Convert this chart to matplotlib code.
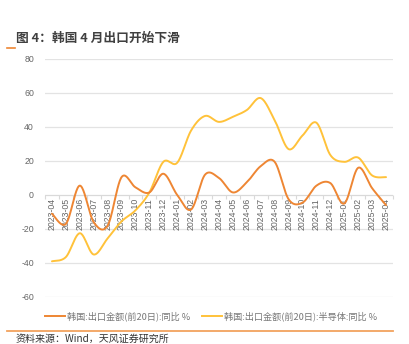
import numpy as np
import matplotlib
matplotlib.use("Agg")
import matplotlib.pyplot as plt
from matplotlib.lines import Line2D

plt.rcParams['font.family'] = ['Noto Sans CJK SC', 'DejaVu Sans']

months = ["2023-04", "2023-05", "2023-06", "2023-07", "2023-08", "2023-09", "2023-10",
          "2023-11", "2023-12", "2024-01", "2024-02", "2024-03", "2024-04", "2024-05",
          "2024-06", "2024-07", "2024-08", "2024-09", "2024-10", "2024-11", "2024-12",
          "2025-01", "2025-02", "2025-03", "2025-04"]
export_yoy = [-11, -17, 5.5, -16, -18, 10.5, 4.5, 1.5, 12.5, 0, -8.5, 12, 10, 1.5,
              7.5, 17, 19.5, -2.5, -4.5, 5.5, 7, -5, 16, 4, -6]
semi_yoy = [-39, -36.5, -22.5, -35, -25.5, -15.5, -9, 1.5, 19.5, 19, 38, 46.5, 43, 46,
            50, 57, 44, 27, 35, 42.5, 23.5, 19.5, 22, 11.5, 10.5]
series_names = ["韩国:出口金额(前20日):同比 %", "韩国:出口金额(前20日):半导体:同比 %"]
yticks = [-60, -40, -20, 0, 20, 40, 60, 80]

c_orange = '#EE8633'
c_yellow = '#FFC23A'


def smooth(xs, ys, n=24, t=0.5):
    xs = np.asarray(xs, float)
    ys = np.asarray(ys, float)
    P = np.column_stack([xs, ys])
    out = []
    for i in range(len(P) - 1):
        p0 = P[i - 1] if i > 0 else P[i]
        p1 = P[i]
        p2 = P[i + 1]
        p3 = P[i + 2] if i + 2 < len(P) else P[i + 1]
        c1 = p1 + (p2 - p0) * t / 3
        c2 = p2 - (p3 - p1) * t / 3
        s = np.linspace(0, 1, n, endpoint=(i == len(P) - 2))[:, None]
        seg = ((1 - s) ** 3) * p1 + 3 * ((1 - s) ** 2) * s * c1 + 3 * (1 - s) * s ** 2 * c2 + s ** 3 * p2
        out.append(seg)
    out = np.vstack(out)
    return out[:, 0], out[:, 1]


fig = plt.figure(figsize=(4.09, 3.44), dpi=100)
ax = fig.add_axes([45 / 409, (344 - 297) / 344, 348 / 409, 238 / 344])

x = np.arange(len(months))
sx, sy = smooth(x, semi_yoy)
ax.plot(sx, sy, color=c_yellow, lw=1.4, zorder=3, solid_capstyle='round')
ox, oy = smooth(x, export_yoy)
ax.plot(ox, oy, color=c_orange, lw=1.4, zorder=4, solid_capstyle='round')

ax.set_xlim(-0.5, len(months) - 0.5)
ax.set_ylim(-60, 80)
ax.set_yticks(yticks)
ax.set_yticklabels([str(v) for v in yticks], family='Liberation Sans', fontsize=6.3, color='#666666')
for v in yticks:
    if v != 0:
        ax.axhline(v, color='#E3E3E3', lw=0.9, zorder=1)
ax.axhline(0, color='#D9D9D9', lw=0.9, zorder=1)

for s in ['top', 'right', 'left']:
    ax.spines[s].set_visible(False)
ax.spines['bottom'].set_position(('data', 0))
ax.spines['bottom'].set_visible(False)
ax.tick_params(axis='y', length=0, pad=8)
ax.set_xticks(x)
ax.set_xticklabels(months, rotation=90, family='Liberation Sans', fontsize=6.3, color='#666666', va='top')
ax.tick_params(axis='x', which='major', length=0, pad=2)
ax.set_xticks(np.arange(-0.5, len(months), 1), minor=True)
ax.tick_params(axis='x', which='minor', length=3, color='#D9D9D9', width=0.8)

# legend
fig.add_artist(Line2D([45 / 409, 65 / 409], [1 - 316 / 344] * 2, color=c_orange, lw=1.4))
fig.text(67 / 409, 1 - 316 / 344, series_names[0], fontsize=6.6, color='#777777', va='center')
fig.add_artist(Line2D([202 / 409, 222 / 409], [1 - 316 / 344] * 2, color=c_yellow, lw=1.4))
fig.text(224 / 409, 1 - 316 / 344, series_names[1], fontsize=6.6, color='#777777', va='center')

# title
fig.text(16 / 409, 1 - 38 / 344, "图 4：韩国 4 月出口开始下滑", fontsize=9.2, fontweight='bold',
         color='#404040', va='center')
fig.add_artist(Line2D([7 / 409, 15 / 409], [1 - 48 / 344] * 2, color=c_orange, lw=1.2))

# bottom rule and source
fig.add_artist(Line2D([7 / 409, 393 / 409], [1 - 331 / 344] * 2, color='#F2A35E', lw=1.3))
fig.text(16 / 409, 1 - 339 / 344, "资料来源：Wind，天风证券研究所", fontsize=7.2, color='#333333', va='center')

fig.savefig("out.png", dpi=100)
